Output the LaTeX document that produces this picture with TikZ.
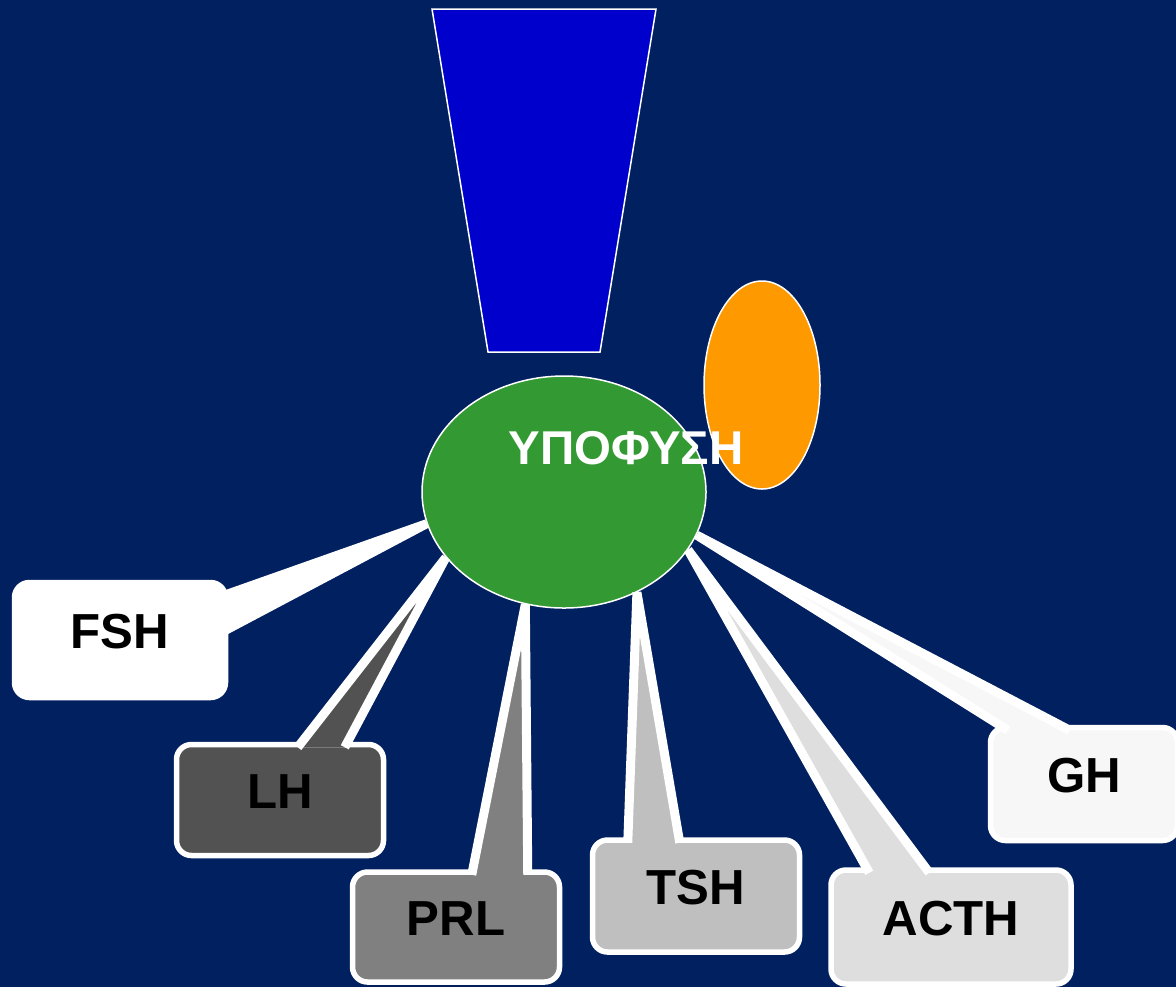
\documentclass[tikz,border=0pt]{standalone}
\usepackage{fontspec}
\setmainfont{Liberation Sans}
\usetikzlibrary{shapes.geometric,calc,positioning}
\definecolor{navy}{HTML}{002060}
\definecolor{stalkblue}{HTML}{0000CC}
\definecolor{glandgreen}{HTML}{339933}
\definecolor{glandorange}{HTML}{FF9900}

\begin{document}
\begin{tikzpicture}[line width=0.015cm,
  gland/.style={ellipse,draw=white,inner sep=0pt},
  hormone/.style={rectangle,rounded corners=0.15cm,draw=white,line width=0.055cm,
    minimum width=2.07cm,minimum height=1.11cm,text height=0.36cm,text depth=0.2cm,
    font=\fontsize{14}{16}\selectfont\bfseries},
  pointer/.style={draw=white,line width=0.09cm,line join=bevel}]
\fill [navy] (0,0) rectangle (11.76,-9.87);
\useasboundingbox (0,0) rectangle (11.76,-9.87);
\filldraw [fill=stalkblue,draw=white] (4.32,-0.09) -- (6.56,-0.09) -- (6.00,-3.52) -- (4.88,-3.52) -- cycle;
\node (pineal) [gland,fill=glandorange,minimum width=1.16cm,minimum height=2.08cm] at (7.62,-3.85) {};
\node (hyp) [gland,fill=glandgreen,minimum width=2.84cm,minimum height=2.32cm] at (5.64,-4.92) {};
\node (hypname) [text=white,font=\fontsize{13.5}{16}\selectfont\bfseries] at (6.26,-4.48) {ΥΠΟΦΥΣΗ};
\node (fsh) [hormone,fill=white,minimum width=2.11cm,minimum height=1.15cm] at (1.20,-6.40) {FSH};
\node (lh) [hormone,fill=black!68] at (2.80,-8.00) {LH};
\node (prl) [hormone,fill=black!50,minimum height=1.10cm] at (4.56,-9.27) {PRL};
\node (tsh) [hormone,fill=black!25,minimum height=1.12cm] at (6.96,-8.96) {TSH};
\node (acth) [hormone,fill=black!13,minimum width=2.40cm,minimum height=1.14cm] at (9.51,-9.27) {ACTH};
\node (gh) [hormone,fill=black!3,minimum width=1.87cm,minimum height=1.13cm] at (10.84,-7.84) {GH};
\filldraw [pointer,fill=white] ($(fsh.north east)+(-0.055,-0.16)$) -- (hyp.193) -- ($(fsh.north east)+(-0.055,-0.52)$);
\filldraw [pointer,fill=black!68] ($(lh.north west)+(1.24,-0.055)$) -- (hyp.209) -- ($(lh.north west)+(1.71,-0.055)$);
\filldraw [pointer,fill=black!50] ($(prl.north west)+(1.22,-0.055)$) -- (hyp.251) -- ($(prl.north west)+(1.78,-0.055)$);
\filldraw [pointer,fill=black!25] ($(tsh.north west)+(0.38,-0.055)$) -- (hyp.306) -- ($(tsh.north west)+(0.90,-0.055)$);
\filldraw [pointer,fill=black!13] ($(acth.north west)+(0.41,-0.055)$) -- (hyp.335) -- ($(acth.north west)+(1.01,-0.055)$);
\filldraw [pointer,fill=black!3] ($(gh.north west)+(0.20,-0.055)$) -- (hyp.342) -- ($(gh.north west)+(0.82,-0.055)$);
\end{tikzpicture}
\end{document}
